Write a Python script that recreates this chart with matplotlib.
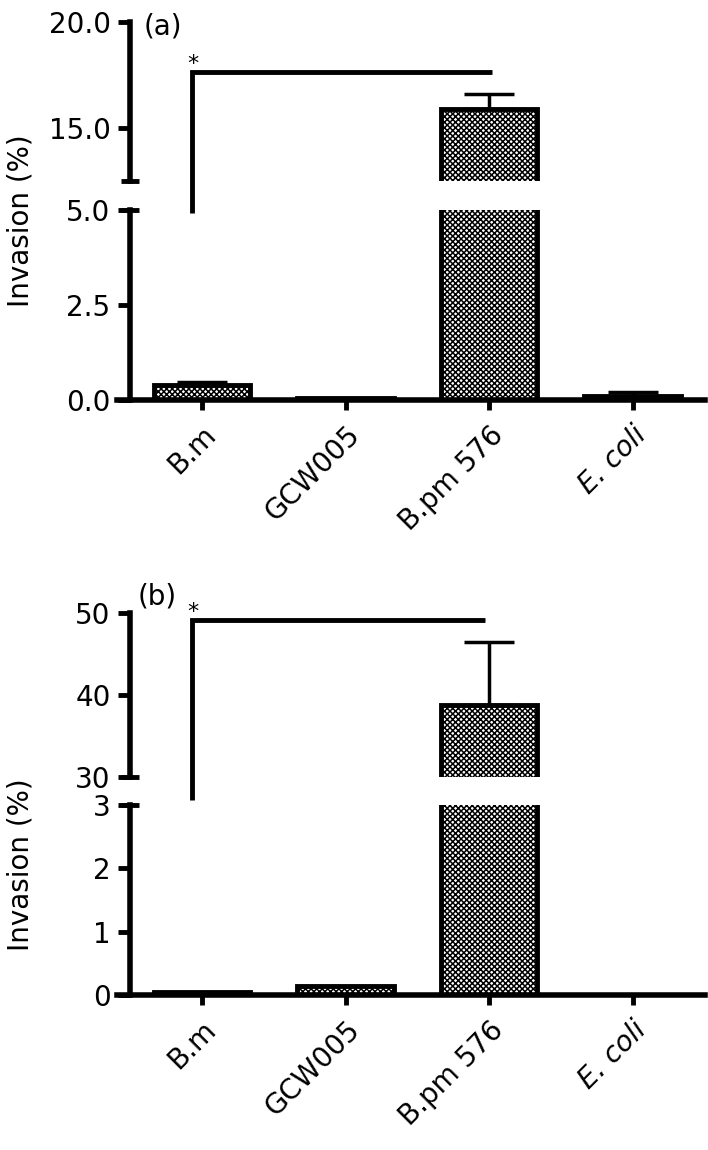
import matplotlib
matplotlib.use('Agg')
import matplotlib.pyplot as plt
from matplotlib.lines import Line2D
import numpy as np

plt.rcParams['font.family'] = ['DejaVu Sans']
plt.rcParams['hatch.linewidth'] = 1.1
plt.rcParams['hatch.color'] = 'black'

# ---------------- data ----------------
categories = ['B.m', 'GCW005', 'B.pm 576', 'E. coli']
italic_labels = [False, False, False, True]

invasion_a = [0.40, 0.05, 15.9, 0.10]
error_a = [0.07, 0.0, 0.7, 0.10]

invasion_b = [0.05, 0.14, 38.8, 0.0]
error_b = [0.0, 0.0, 7.7, 0.0]

# axis ranges for the broken axes
a_upper_lim = (12.5, 20.0)
a_lower_lim = (0.0, 5.0)
a_upper_ticks = [15.0, 20.0]
a_lower_ticks = [0.0, 2.5, 5.0]
b_upper_lim = (30.0, 50.0)
b_lower_lim = (0.0, 3.0)
b_upper_ticks = [30, 40, 50]
b_lower_ticks = [0, 1, 2, 3]

# significance brackets (x from, x to, y top on upper axis, y bottom on lower axis)
bracket_a = (-0.07, 2.02, 17.64, 4.92)
bracket_b = (-0.07, 1.97, 49.15, 3.08)

# ---------------- layout ----------------
W, H = 708, 1150
fig = plt.figure(figsize=(W / 100, H / 100), dpi=100)
FS = 20
LW = 4.0


def px_axes(x0, y0, x1, y1):
    return fig.add_axes([x0 / W, 1 - y1 / H, (x1 - x0) / W, (y1 - y0) / H])


X_LEFT_PX, X_RIGHT_PX = 117, 705
CAT0_PX, STEP_PX, SPINE_PX = 202, 143.5, 130
xlim = (-(CAT0_PX - X_LEFT_PX) / STEP_PX,
        -(CAT0_PX - X_LEFT_PX) / STEP_PX + (X_RIGHT_PX - X_LEFT_PX) / STEP_PX)
spine_x = -(CAT0_PX - SPINE_PX) / STEP_PX

x = np.arange(len(categories))


def draw_bars(ax, vals, errs):
    ax.bar(x, vals, width=0.67, color='white', edgecolor='black',
           linewidth=3.5, hatch='xxxxxx', zorder=2)
    for xi, v, e in zip(x, vals, errs):
        if e > 0:
            ax.errorbar([xi], [v], yerr=[[0], [e]], fmt='none', ecolor='black',
                        elinewidth=2.5, capsize=18, capthick=2.5, zorder=3)


def fmt_ticks(ticks, dec):
    return [f'{t:.1f}' if dec else f'{t:d}' for t in ticks]


def make_panel(vals, errs, up_px, lo_px, up_lim, lo_lim, up_ticks, lo_ticks,
               dec, bracket, label, label_px, ylab_px):
    ax_up = px_axes(X_LEFT_PX, up_px[0], X_RIGHT_PX, up_px[1])
    ax_lo = px_axes(X_LEFT_PX, lo_px[0], X_RIGHT_PX, lo_px[1])
    for ax, lim, ticks in ((ax_up, up_lim, up_ticks), (ax_lo, lo_lim, lo_ticks)):
        draw_bars(ax, vals, errs)
        ax.set_xlim(*xlim)
        ax.set_ylim(*lim)
        ax.patch.set_visible(False)
        ax.spines['top'].set_visible(False)
        ax.spines['right'].set_visible(False)
        ax.spines['left'].set_position(('data', spine_x))
        ax.spines['left'].set_linewidth(LW)
        ax.set_yticks(ticks)
        ax.set_yticklabels(fmt_ticks(ticks, dec))
        ax.tick_params(axis='y', direction='out', length=9, width=3.5,
                       labelsize=FS, pad=5)
    ax_up.spines['bottom'].set_visible(False)
    ax_up.tick_params(axis='x', bottom=False, labelbottom=False)
    ax_lo.spines['bottom'].set_linewidth(LW)
    ax_lo.set_xticks(x)
    ax_lo.set_xticklabels(categories, rotation=45, ha='right', va='top',
                          rotation_mode='anchor')
    for lab, it in zip(ax_lo.get_xticklabels(), italic_labels):
        if it:
            lab.set_style('italic')
    ax_lo.tick_params(axis='x', direction='out', length=7, width=3.5,
                      labelsize=FS, pad=8)

    # break end marks
    ax_up.plot([spine_x], [up_lim[0]], marker='_', markersize=13,
               mew=3.5, color='black', clip_on=False, zorder=5)
    ax_lo.plot([spine_x], [lo_lim[1]], marker='_', markersize=13,
               mew=3.5, color='black', clip_on=False, zorder=5)

    # significance bracket
    bx0, bx1, btop, bbot = bracket
    p_top0 = ax_up.transData.transform((bx0, btop))
    p_top1 = ax_up.transData.transform((bx1, btop))
    p_bot = ax_lo.transData.transform((bx0, bbot))
    pts = fig.transFigure.inverted().transform(np.array([p_bot, p_top0, p_top1]))
    fig.add_artist(Line2D(pts[:, 0], pts[:, 1], color='black', lw=3.5,
                          solid_joinstyle='miter', solid_capstyle='butt',
                          transform=fig.transFigure))
    ax_up.annotate('*', xy=(bx0, btop), xytext=(1, 1.5), textcoords='offset points',
                   ha='center', va='baseline', fontsize=16, annotation_clip=False)

    fig.text(label_px[0] / W, 1 - label_px[1] / H, label, fontsize=FS,
             ha='left', va='center')
    fig.text(ylab_px[0] / W, 1 - ylab_px[1] / H, 'Invasion (%)', fontsize=FS,
             rotation=90, ha='center', va='center')
    return ax_up, ax_lo


make_panel(invasion_a, error_a, (22, 181), (210, 400), a_upper_lim, a_lower_lim,
           a_upper_ticks, a_lower_ticks, True, bracket_a,
           '(a)', (144, 26), (21, 221))
make_panel(invasion_b, error_b, (613, 777), (805, 995), b_upper_lim, b_lower_lim,
           b_upper_ticks, b_lower_ticks, False, bracket_b,
           '(b)', (138, 597), (21, 865))

fig.savefig('out.png', dpi=100)
